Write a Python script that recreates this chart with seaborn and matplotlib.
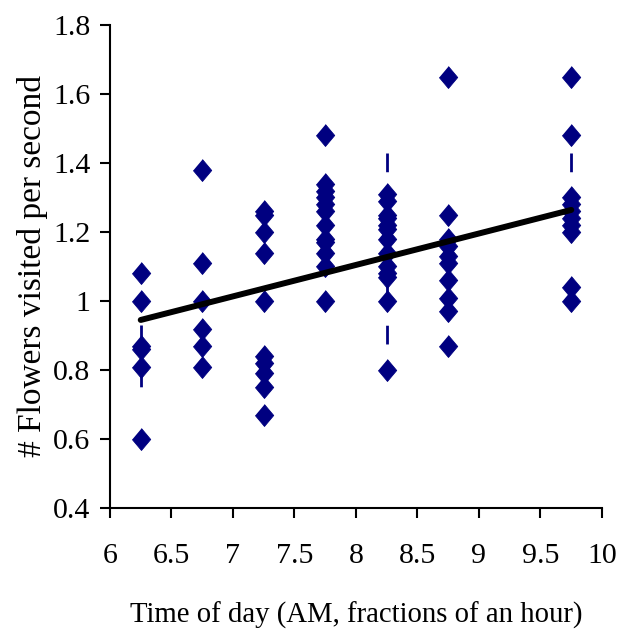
import matplotlib
matplotlib.use("Agg")
import matplotlib.pyplot as plt
import pandas as pd
import seaborn as sns
from matplotlib.ticker import FuncFormatter

# data
times = [6.25, 6.75, 7.25, 7.75, 8.25, 8.75, 9.75]
rates_625 = [1.08, 1.00, 0.87, 0.86, 0.81, 0.60]
rates_675 = [1.38, 1.11, 1.00, 0.92, 0.87, 0.81]
rates_725 = [1.26, 1.25, 1.20, 1.14, 1.00, 0.84, 0.82, 0.79, 0.75, 0.67]
rates_775 = [1.48, 1.34, 1.32, 1.30, 1.28, 1.26, 1.22, 1.18, 1.17, 1.14, 1.10, 1.00]
rates_825 = [1.31, 1.29, 1.25, 1.24, 1.22, 1.21, 1.18, 1.14, 1.10, 1.08, 1.07, 1.00, 0.80]
rates_875 = [1.65, 1.25, 1.18, 1.16, 1.13, 1.11, 1.06, 1.01, 0.97, 0.87]
rates_975 = [1.65, 1.48, 1.30, 1.28, 1.26, 1.24, 1.22, 1.20, 1.04, 1.00]

# visible error bars (top, bottom)
err_x = [6.25, 8.25, 9.75]
err_top = [0.93, 1.43, 1.43]
err_bottom = [0.735, 0.875, 1.20]

# linear trend line
trend_x = [6.25, 9.75]
trend_y = [0.945, 1.264]

all_rates = [rates_625, rates_675, rates_725, rates_775, rates_825, rates_875, rates_975]
rows = []
for t, vals in zip(times, all_rates):
    for v in vals:
        rows.append({"time": t, "rate": v})
df = pd.DataFrame(rows)

sns.set_style("ticks")
plt.rcParams["font.family"] = ["Liberation Serif", "DejaVu Serif"]
plt.rcParams["lines.scale_dashes"] = False

fig = plt.figure(figsize=(6.21, 6.36), dpi=100)
ax = fig.add_axes([0.1771, 0.2013, 0.7923, 0.7594])

navy = "#000080"

# error bars drawn from top to bottom, dashed
ax.vlines(err_x, err_top, err_bottom, colors=navy, linewidth=2.0,
          linestyles=[(0, (13.5, 17.5))], zorder=1)

diamond = [(0, 1), (0.84, 0), (0, -1), (-0.84, 0)]
sns.scatterplot(data=df, x="time", y="rate", marker=diamond, s=250,
                color=navy, edgecolor=navy, linewidth=0.6, ax=ax, zorder=2)

sns.lineplot(x=trend_x, y=trend_y, color="black", linewidth=4.3, ax=ax, zorder=3)

ax.set_xlim(6, 10)
ax.set_ylim(0.4, 1.8)
ax.set_xticks([6, 6.5, 7, 7.5, 8, 8.5, 9, 9.5, 10])
ax.set_yticks([0.4, 0.6, 0.8, 1.0, 1.2, 1.4, 1.6, 1.8])
fmt = FuncFormatter(lambda v, p: f"{v:g}")
ax.xaxis.set_major_formatter(fmt)
ax.yaxis.set_major_formatter(fmt)

sns.despine(ax=ax)
for s in ["left", "bottom"]:
    ax.spines[s].set_linewidth(1.5)
    ax.spines[s].set_color("black")

ax.tick_params(axis="both", direction="out", length=7, width=1.5, color="black",
               labelsize=21.5, labelcolor="black")
ax.tick_params(axis="x", pad=18)
ax.tick_params(axis="y", pad=7)

ax.set_xlabel("Time of day (AM, fractions of an hour)", fontsize=20.7, labelpad=24, color="black")
ax.set_ylabel("# Flowers visited per second", fontsize=24, labelpad=4, color="black")

fig.savefig("out.png", dpi=100)
